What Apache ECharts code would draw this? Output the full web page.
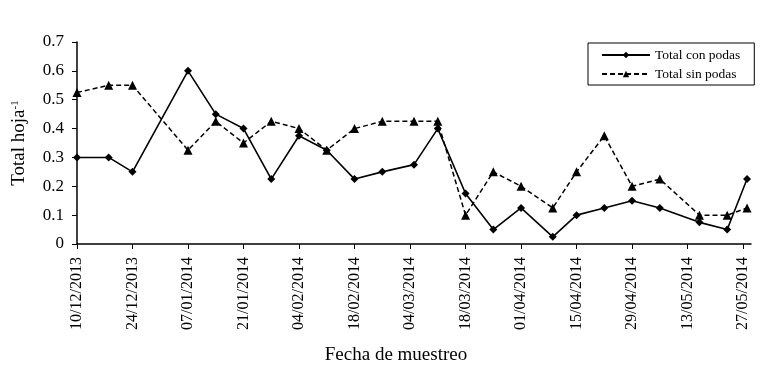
<!DOCTYPE html>
<html>
<head>
<meta charset="utf-8">
<title>Total hoja</title>
<script src="https://cdn.jsdelivr.net/npm/echarts@6/dist/echarts.min.js"></script>
<style>
  html, body { margin: 0; padding: 0; background: #fff; }
  #chart { width: 783px; height: 373px; }
</style>
</head>
<body>
<div id="chart"></div>
<script>
// fechas de muestreo
const fechas = [
  '2013-12-10', '2013-12-18', '2013-12-24', '2014-01-07', '2014-01-14', '2014-01-21',
  '2014-01-28', '2014-02-04', '2014-02-11', '2014-02-18', '2014-02-25', '2014-03-05',
  '2014-03-11', '2014-03-18', '2014-03-25', '2014-04-01', '2014-04-09', '2014-04-15',
  '2014-04-22', '2014-04-29', '2014-05-06', '2014-05-16', '2014-05-23', '2014-05-28'
];
const conPodas = [
  0.3, 0.3, 0.25, 0.6, 0.45, 0.4,
  0.225, 0.375, 0.325, 0.225, 0.25, 0.275,
  0.4, 0.175, 0.05, 0.125, 0.025, 0.1,
  0.125, 0.15, 0.125, 0.075, 0.05, 0.225
];
const sinPodas = [
  0.525, 0.55, 0.55, 0.325, 0.425, 0.35,
  0.425, 0.4, 0.325, 0.4, 0.425, 0.425,
  0.425, 0.1, 0.25, 0.2, 0.125, 0.25,
  0.375, 0.2, 0.225, 0.1, 0.1, 0.125
];
const xTickLabels = [
  '10/12/2013', '24/12/2013', '07/01/2014', '21/01/2014', '04/02/2014', '18/02/2014',
  '04/03/2014', '18/03/2014', '01/04/2014', '15/04/2014', '29/04/2014', '13/05/2014',
  '27/05/2014'
];
const yTickLabels = ['0', '0.1', '0.2', '0.3', '0.4', '0.5', '0.6', '0.7'];

const DAY = 86400000;
const origen = Date.parse(fechas[0]);
const dias = fechas.map(f => Math.round((Date.parse(f) - origen) / DAY));

const font = '"Liberation Serif", "Times New Roman", serif';
const chart = echarts.init(document.getElementById('chart'));

const option = {
  animation: false,
  textStyle: { fontFamily: font, color: '#000' },
  grid: { left: 77, right: 32, top: 42, bottom: 129 },
  legend: {
    orient: 'vertical',
    left: 588,
    top: 43,
    itemWidth: 48,
    itemHeight: 8,
    itemGap: 5,
    padding: [5, 14, 4, 13],
    borderColor: '#000',
    borderWidth: 1,
    textStyle: { fontFamily: font, fontSize: 13.5, color: '#000' },
    data: ['Total con podas', 'Total sin podas']
  },
  xAxis: {
    type: 'value',
    min: 0,
    max: 170,
    interval: 14,
    name: 'Fecha de muestreo',
    nameLocation: 'middle',
    nameGap: 102,
    nameTextStyle: { fontFamily: font, fontSize: 19, color: '#000', padding: [0, 36, 0, 0] },
    splitLine: { show: false },
    axisLine: { lineStyle: { color: '#000', width: 1.5 } },
    axisTick: { length: 5, lineStyle: { color: '#000', width: 1 } },
    axisLabel: {
      rotate: 90,
      margin: 13,
      fontFamily: font,
      fontSize: 16,
      color: '#000',
      showMaxLabel: false,
      formatter: (v) => xTickLabels[Math.round(v / 14)] || ''
    }
  },
  yAxis: {
    type: 'value',
    min: 0,
    max: 0.7,
    interval: 0.1,
    name: '{t|Total hoja}{s|-1}',
    nameLocation: 'middle',
    nameGap: 48,
    nameTextStyle: {
      rich: {
        t: { fontFamily: font, fontSize: 19, color: '#000' },
        s: { fontFamily: font, fontSize: 11, color: '#000', verticalAlign: 'top', padding: [0, 0, 8, 0] }
      }
    },
    splitLine: { show: false },
    axisLine: { show: true, lineStyle: { color: '#000', width: 1.5 } },
    axisTick: { show: true, length: 5, lineStyle: { color: '#000', width: 1 } },
    axisLabel: {
      margin: 13,
      fontFamily: font,
      fontSize: 17,
      color: '#000',
      formatter: (v) => yTickLabels[Math.round(v * 10)]
    }
  },
  series: [
    {
      name: 'Total con podas',
      type: 'line',
      data: dias.map((d, i) => [d, conPodas[i]]),
      symbol: 'diamond',
      symbolSize: 8,
      itemStyle: { color: '#000' },
      lineStyle: { color: '#000', width: 1.6 }
    },
    {
      name: 'Total sin podas',
      type: 'line',
      data: dias.map((d, i) => [d, sinPodas[i]]),
      symbol: 'triangle',
      symbolSize: 9,
      itemStyle: { color: '#000' },
      lineStyle: { color: '#000', width: 1.5, type: [5, 3] }
    }
  ]
};

chart.setOption(option);

window.addEventListener('resize', () => chart.resize());
</script>
</body>
</html>
